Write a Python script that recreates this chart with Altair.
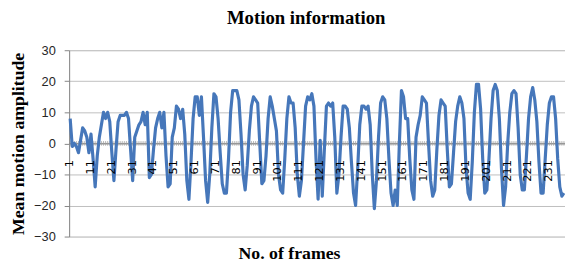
import altair as alt
import pandas as pd

frames = list(range(1, 239))
amplitude = [
    8, -1, 0, -1, -3, 1, 5, 4, 2, -3,
    3, -5, -14, -4, 2, 6, 10, 8, 10, 7,
    -3, -12, -2, 7, 9, 9, 9, 10, 8, -2,
    -12, 2, 4, 6, 7, 10, 6, 10, -11, -10,
    -2, 5, 8, 10, 5, 10, -4, -14, -13, 2,
    5, 12, 11, 8, 11, 3, -12, -18, -6, 8,
    15, 15, 9, 15, 2, -12, -19, -10, 5, 16,
    15, 8, -3, -13, -16, -16, -5, 10, 17, 17,
    17, 14, 3, -10, -15, -7, 4, 12, 15, 14,
    13, 0, -13, -12, -4, 8, 15, 12, 8, 4,
    -10, -15, -16, -5, 8, 15, 13, 13, 5, -10,
    -17, -12, 0, 12, 15, 14, 16, 12, -5, -18,
    1, -17, -2, 12, 13, 12, 13, 2, -16, -10,
    2, 12, 12, 11, 5, -6, -16, -20, -8, 6,
    12, 12, 11, 12, 6, -10, -21, -12, 2, 13,
    15, 14, 8, -5, -16, -20, -15, -20, 0, 17,
    15, 8, 8, -5, -15, -18, 2, 6, 9, 15,
    14, 13, 0, -12, -17, -15, -2, 9, 14, 13,
    12, -2, -14, -13, -3, 7, 12, 15, 13, 8,
    -8, -16, -18, -6, 10, 19, 19, 11, -5, -16,
    -15, -5, 8, 17, 19, 17, 8, -8, -20, -14,
    0, 10, 16, 17, 16, 5, -10, -15, -15, -4,
    8, 15, 18, 14, 7, -6, -16, -16, -5, 6,
    13, 15, 15, 8, -5, -14, -17, -16,
]
label_frames = list(range(1, 232, 10))
y_ticks = [-30, -20, -10, 0, 10, 20, 30]

df = pd.DataFrame({"frame": frames, "amp": amplitude})
tick_df = pd.DataFrame({"frame": frames, "zero": [0] * len(frames)})
lab_df = pd.DataFrame({
    "frame": label_frames,
    "zero": [0] * len(label_frames),
    "label": [str(f) for f in label_frames],
})
zero_df = pd.DataFrame({"zero": [0]})

xs = alt.Scale(domain=[0.5, 238.5], nice=False, zero=False)
ys = alt.Scale(domain=[-30, 30], nice=False)

serif = "Liberation Serif"

line = alt.Chart(df).mark_line(color="#4677BA", strokeWidth=3.2, strokeJoin="round").encode(
    x=alt.X("frame:Q", scale=xs, axis=alt.Axis(
        title="No. of frames", labels=False, ticks=False, domain=False, grid=False,
        titleFont=serif, titleFontSize=18, titleFontWeight="bold", titleColor="#000000",
        titlePadding=8, titleX=223)),
    y=alt.Y("amp:Q", scale=ys, axis=alt.Axis(
        title="Mean motion amplitude", values=y_ticks, grid=True, gridColor="#BFBFBF",
        domainColor="#868686", tickColor="#868686", tickSize=5, labelPadding=9,
        labelFont="Liberation Sans", labelFontSize=13, labelColor="#262626",
        labelOverlap=False,
        titleFont=serif, titleFontSize=18, titleFontWeight="bold", titleColor="#000000",
        titlePadding=6)),
)

zero_rule = alt.Chart(zero_df).mark_rule(color="#868686", strokeWidth=1).encode(
    y=alt.Y("zero:Q", scale=ys, axis=None)
)

ticks = alt.Chart(tick_df).mark_tick(orient="vertical", size=5, thickness=1, color="#A0A0A0").encode(
    x=alt.X("frame:Q", scale=xs, axis=None),
    y=alt.Y("zero:Q", scale=ys, axis=None),
)

labels = alt.Chart(lab_df).mark_text(
    angle=270, align="right", baseline="middle", dx=-17,
    font="DejaVu Sans", fontSize=11.5, color="#000000"
).encode(
    x=alt.X("frame:Q", scale=xs, axis=None),
    y=alt.Y("zero:Q", scale=ys, axis=None),
    text="label:N",
)

chart = alt.layer(zero_rule, ticks, line, labels).resolve_axis(
    x="independent", y="independent"
).properties(
    width=503,
    height=189,
    title=alt.TitleParams("Motion information", font=serif, fontSize=19, fontWeight="bold",
                          color="#000000", anchor="middle", dx=-11, offset=17),
    autosize=alt.AutoSizeParams(type="none"),
    padding={"left": 62, "top": 41, "right": 0, "bottom": 26},
).configure_view(strokeWidth=0).configure(background="#FFFFFF")

chart.save("out.html", embed_options={"renderer": "svg", "actions": False})
